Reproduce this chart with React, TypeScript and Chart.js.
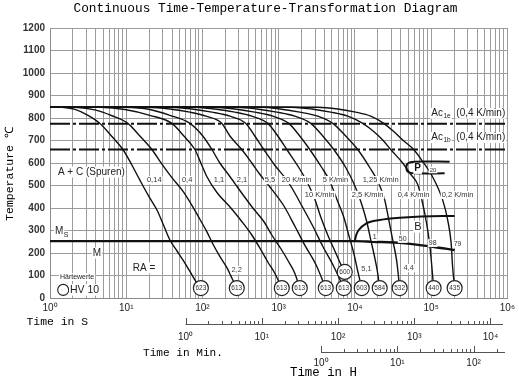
import React, { useEffect, useRef } from "react";
import { Chart, registerables } from "chart.js";

Chart.register(...registerables);

const SANS = '"Liberation Sans", Arial, Helvetica, sans-serif';
const MONO = '"Liberation Mono", "DejaVu Sans Mono", monospace';

// ---------------- data (time in s, temperature in °C) ----------------
const curveNames = ["0,14", "0,4", "1,1", "2,1", "5,5", "20 K/min", "10 K/min", "5 K/min", "2,5 K/min", "1,25 K/min", "0,4 K/min", "0,2 K/min"];

const c1Time = [1, 1.44, 2.13, 3.15, 4.52, 6.49, 9.05, 11.9, 15.1, 19.3, 25.3, 31.2, 37.4, 46.2, 55.4, 68.4, 84.5, 95.3];
const c1Temp = [850, 848, 838, 812, 776, 718, 660, 590, 524, 458, 391, 320, 258, 210, 169, 118, 67, 44];

const c2Time = [1, 2.13, 3.89, 6.49, 10.5, 15.1, 21.7, 29.4, 39.7, 55.4, 74.8, 92.5, 114, 137, 169, 209, 250, 282];
const c2Temp = [850, 848, 836, 810, 776, 720, 660, 595, 535, 475, 405, 350, 295, 240, 185, 135, 80, 44];

const c3Time = [1, 4.52, 9.62, 20.4, 39.7, 57.0, 79.5, 95.3, 114, 154, 236, 328, 444, 582, 720, 889, 1098];
const c3Temp = [850, 848, 838, 812, 776, 720, 660, 600, 540, 470, 400, 340, 280, 215, 160, 110, 44];

const c4Time = [1, 9.62, 20.4, 37.4, 68.4, 101, 133, 169, 229, 338, 458, 638, 812, 1065, 1357, 1626, 1890];
const c4Temp = [850, 848, 838, 812, 776, 720, 660, 600, 540, 460, 400, 340, 280, 220, 160, 110, 44];

const c5Time = [1, 19.3, 37.4, 68.4, 111, 180, 229, 328, 444, 565, 742, 1166, 1626, 2198, 3063, 4144];
const c5Temp = [850, 848, 840, 826, 808, 776, 720, 660, 600, 550, 500, 410, 320, 235, 150, 44];

const c6Time = [1, 39.7, 72.6, 133, 229, 371, 486, 638, 889, 1239, 1485, 2009, 2799, 3784, 5275, 7133];
const c6Temp = [850, 848, 840, 826, 808, 776, 720, 660, 590, 530, 490, 410, 320, 230, 140, 44];

const c7Time = [1, 79.5, 145, 266, 444, 720, 973, 1277, 1834, 2406, 2972, 3563, 4401, 5603, 6515, 7350];
const c7Temp = [850, 848, 840, 826, 808, 776, 720, 660, 580, 510, 440, 360, 280, 200, 150, 116];

const c8Time = [1, 145, 266, 486, 837, 1357, 1890, 2556, 3672, 4674, 5775, 7133, 8293, 9645, 10880, 12280];
const c8Temp = [850, 848, 840, 826, 808, 776, 720, 660, 580, 520, 440, 360, 280, 200, 120, 44];

const c9Time = [1, 291, 516, 944, 1626, 2635, 3784, 5275, 7575, 9645, 11910, 14280, 16110, 18180, 19900, 21140];
const c9Temp = [850, 848, 840, 826, 808, 776, 720, 660, 580, 510, 430, 340, 260, 180, 110, 44];

const c10Time = [1, 600, 1034, 1890, 3253, 5117, 7575, 10880, 15630, 20510, 24580, 27730, 31290, 35310, 38650];
const c10Temp = [850, 848, 840, 826, 808, 776, 720, 660, 580, 510, 436, 350, 258, 165, 44];

const c11Time = [1, 1485, 2716, 4817, 8046, 12650, 17640, 23140, 29460, 42320, 53860, 66550, 77390, 87300, 95570, 101500, 107800];
const c11Temp = [850, 848, 840, 826, 808, 776, 740, 702, 660, 600, 550, 505, 420, 330, 240, 150, 44];

const c12Time = [1, 3253, 5952, 10245, 16110, 23850, 32250, 42320, 58980, 75090, 104600, 141500, 164600, 182900, 191300, 203200];
const c12Temp = [850, 848, 840, 826, 808, 776, 740, 702, 660, 613, 538, 436, 347, 244, 138, 44];

const curveTimes = [c1Time, c2Time, c3Time, c4Time, c5Time, c6Time, c7Time, c8Time, c9Time, c10Time, c11Time, c12Time];
const curveTemps = [c1Temp, c2Temp, c3Temp, c4Temp, c5Temp, c6Temp, c7Temp, c8Temp, c9Temp, c10Temp, c11Temp, c12Temp];

// hardness circles (HV 10)
const hvTime = [95.3, 282, 1098, 1890, 4144, 7133, 7350, 12280, 21140, 38650, 107800, 203200];
const hvTemp = [44, 44, 44, 44, 44, 44, 116, 44, 44, 44, 44, 44];
const hvValue = ["623", "613", "613", "613", "613", "613", "600", "603", "584", "532", "440", "435"];

// Ms / bainite finish line
const msTime = [1, 9940, 17120, 42320, 104600, 203200];
const msTemp = [253, 253, 250, 244, 228, 213];

// bainite start
const bsTime = [9940, 10400, 11220, 14150, 21140, 38650, 141500, 203200];
const bsTemp = [253, 280, 302, 332, 347, 357, 364, 364];

// pearlite nose
const pTime = [174800, 60790, 52270, 48460, 47310, 48460, 52270, 60790, 150300];
const pTemp = [606, 606, 603, 595, 580, 565, 557, 554, 554];

// Ac lines
const acTime = [1, 1e6];
const ac1eTemp = 775;
const ac1bTemp = 660;

// annotation anchors (time, temp)
const rateLabelTime = [18.7, 53.7, 141, 282, 658, 1098, 2198, 3784, 9080, 12650, 36390, 137300];
const rateLabelTemp = [524, 524, 524, 524, 524, 524, 458, 524, 458, 524, 458, 458];

const raText = ["2,2", "5,1", "4,4"];
const raTime = [282, 14150, 50700];
const raTemp = [124, 129, 133];

const bainiteText = ["1", "50", "98", "79"];
const bainiteTime = [18180, 42320, 104600, 222300];
const bainiteTemp = [271, 262, 244, 240];

const SUP = ["⁰", "¹", "²", "³", "⁴", "⁵", "⁶"];

const gridTickValues: number[] = [];
for (let e = 0; e < 6; e++) for (let m = 1; m < 10; m++) gridTickValues.push(m * Math.pow(10, e));
gridTickValues.push(1e6);

function label(ctx: CanvasRenderingContext2D, s: string, x: number, y: number, size: number, align: CanvasTextAlign = "left", bg = true, color = "#222", weight = "normal") {
  ctx.font = `${weight} ${size}px ${SANS}`;
  ctx.textAlign = align;
  ctx.textBaseline = "middle";
  if (bg) {
    const w = ctx.measureText(s).width;
    const lx = align === "left" ? x : align === "center" ? x - w / 2 : x - w;
    ctx.fillStyle = "#fff";
    ctx.fillRect(lx - 1, y - size * 0.55, w + 2, size * 1.1);
  }
  ctx.fillStyle = color;
  ctx.fillText(s, x, y);
  return ctx.measureText(s).width;
}

const annotPlugin = {
  id: "annot",
  afterDatasetsDraw(chart: any) {
    const ctx: CanvasRenderingContext2D = chart.ctx;
    const xs = chart.scales.x;
    const ys = chart.scales.y;
    const X = (t: number) => xs.getPixelForValue(t);
    const Y = (T: number) => ys.getPixelForValue(T);
    ctx.save();
    hvValue.forEach((v, i) => {
      label(ctx, v, X(hvTime[i]), Y(hvTemp[i]) + 0.5, 6.5, "center", false, "#333");
    });
    curveNames.forEach((n, i) => {
      label(ctx, n, X(rateLabelTime[i]), Y(rateLabelTemp[i]), 7.5, "left", true, "#333");
    });
    raText.forEach((s, i) => label(ctx, s, X(raTime[i]), Y(raTemp[i]), 7.5, "center", true, "#444"));
    bainiteText.forEach((s, i) => label(ctx, s, X(bainiteTime[i]), Y(bainiteTemp[i]), 7, "center", true, "#333"));

    const acLabel = (T: number, sub: string) => {
      const x0 = X(100500);
      const y0 = Y(T);
      const w = label(ctx, "Ac", x0, y0, 10, "left", true, "#222");
      label(ctx, sub, x0 + w + 0.5, y0 + 3, 6.5, "left", true, "#222");
      label(ctx, "(0,4 K/min)", x0 + 25, y0, 10, "left", true, "#222");
    };
    acLabel(821, "1e");
    acLabel(713, "1b");

    label(ctx, "A + C (Spuren)", X(1.27), Y(560), 10, "left", true, "#222");
    const mw = label(ctx, "M", X(1.16), Y(295), 10, "left", true, "#222");
    label(ctx, "S", X(1.16) + mw + 0.5, Y(295) + 3, 7, "left", true, "#222");
    label(ctx, "M", X(3.63), Y(200), 10, "left", true, "#222");
    label(ctx, "RA =", X(12.2), Y(133), 10, "left", true, "#222");
    label(ctx, "Härtewerte", X(1.35), Y(93), 7, "left", true, "#222");
    ctx.beginPath();
    ctx.arc(X(1.49), Y(36), 5.5, 0, Math.PI * 2);
    ctx.fillStyle = "#fff";
    ctx.fill();
    ctx.strokeStyle = "#222";
    ctx.lineWidth = 1.1;
    ctx.stroke();
    label(ctx, "HV 10", X(1.83), Y(36), 10.5, "left", true, "#222");

    label(ctx, "B", X(67100), Y(317), 11, "center", true, "#222");
    label(ctx, "P", X(66550), Y(576), 10, "center", true, "#111", "bold");
    label(ctx, "20", X(95570), Y(569), 6, "left", true, "#333");
    ctx.restore();
  },
  afterDraw(chart: any) {
    const ctx: CanvasRenderingContext2D = chart.ctx;
    const xs = chart.scales.x;
    ctx.save();
    ctx.fillStyle = "#000";
    ctx.textBaseline = "middle";
    ctx.textAlign = "center";
    ctx.font = `12.8px ${MONO}`;
    ctx.fillText("Continuous Time-Temperature-Transformation Diagram", 265.5, 8.5);
    ctx.save();
    ctx.translate(10, 174);
    ctx.rotate(-Math.PI / 2);
    ctx.font = `11.5px ${MONO}`;
    ctx.fillText("Temperature ℃", 0, 0);
    ctx.restore();
    ctx.textAlign = "left";
    ctx.font = `11.4px ${MONO}`;
    ctx.fillText("Time in S", 26.5, 322);
    ctx.font = `11.1px ${MONO}`;
    ctx.fillText("Time in Min.", 143, 353.5);
    ctx.font = `12.4px ${MONO}`;
    ctx.fillText("Time in H", 290, 373);

    const subAxis = (factor: number, baseY: number, labelY: number, right: number, maxExp: number) => {
      const x0 = xs.getPixelForValue(factor);
      ctx.strokeStyle = "#555";
      ctx.lineWidth = 1;
      ctx.beginPath();
      ctx.moveTo(x0, baseY + 0.5);
      ctx.lineTo(right, baseY + 0.5);
      ctx.stroke();
      for (let e = 0; e <= maxExp + 1; e++) {
        for (let m = 1; m < 10; m++) {
          const px = xs.getPixelForValue(m * Math.pow(10, e) * factor);
          if (px > right + 0.5) continue;
          const h = m === 1 ? 6 : 3;
          const xx = Math.round(px) + 0.5;
          ctx.beginPath();
          ctx.moveTo(xx, baseY);
          ctx.lineTo(xx, baseY - h);
          ctx.stroke();
          if (m === 1 && e <= maxExp) {
            ctx.font = `10px ${SANS}`;
            ctx.textAlign = "center";
            ctx.fillStyle = "#222";
            ctx.fillText("10" + SUP[e], px, labelY);
          }
        }
      }
    };
    subAxis(60, 324, 337, 503, 4);
    subAxis(3600, 352, 363.5, 505, 2);
    ctx.restore();
  },
};

export default function App() {
  const ref = useRef<HTMLCanvasElement | null>(null);
  useEffect(() => {
    if (!ref.current) return;
    const pts = (ts: number[], Ts: number[]) => ts.map((t, i) => ({ x: t, y: Ts[i] }));
    const datasets: any[] = [];
    datasets.push({
      data: pts(hvTime, hvTemp),
      showLine: false,
      pointRadius: 7.5,
      pointStyle: "circle",
      pointBackgroundColor: "#fff",
      pointBorderColor: "#222",
      pointBorderWidth: 1.2,
      order: 0,
    });
    curveTimes.forEach((ts, i) => {
      datasets.push({
        data: pts(ts, curveTemps[i]),
        borderColor: "#111",
        borderWidth: 1.4,
        pointRadius: 0,
        cubicInterpolationMode: "monotone",
        fill: false,
        order: 1,
      });
    });
    [ac1eTemp, ac1bTemp].forEach((T) => {
      datasets.push({
        data: pts(acTime, [T, T]),
        borderColor: "#111",
        borderWidth: 2,
        borderDash: [20, 3, 3, 3],
        pointRadius: 0,
        order: 2,
      });
    });
    datasets.push({
      data: pts(msTime, msTemp),
      borderColor: "#111",
      borderWidth: 2.4,
      pointRadius: 0,
      cubicInterpolationMode: "monotone",
      order: 1,
    });
    datasets.push({
      data: pts(bsTime, bsTemp),
      borderColor: "#111",
      borderWidth: 2,
      pointRadius: 0,
      cubicInterpolationMode: "monotone",
      order: 1,
    });
    datasets.push({
      data: pts(pTime, pTemp),
      borderColor: "#111",
      borderWidth: 2,
      pointRadius: 0,
      tension: 0.35,
      order: 1,
    });

    const chart = new Chart(ref.current, {
      type: "line",
      data: { datasets },
      plugins: [annotPlugin as any],
      options: {
        responsive: false,
        maintainAspectRatio: false,
        animation: false,
        devicePixelRatio: 1,
        layout: { padding: { left: 0, right: 11, top: 28, bottom: 0 } },
        plugins: { legend: { display: false }, tooltip: { enabled: false }, title: { display: false } },
        scales: {
          x: {
            type: "logarithmic",
            min: 1,
            max: 1e6,
            position: "bottom",
            afterBuildTicks: (s: any) => {
              s.ticks = gridTickValues.map((v) => ({ value: v }));
            },
            afterFit: (s: any) => {
              s.height = 82;
            },
            grid: { color: "#9c9c9c", lineWidth: 1, drawTicks: false },
            border: { display: true, color: "#8a8a8a" },
            ticks: {
              autoSkip: false,
              maxRotation: 0,
              minRotation: 0,
              padding: 4,
              color: "#222",
              font: { family: SANS, size: 10 },
              callback: (v: any) => {
                const e = Math.log10(Number(v));
                return Math.abs(e - Math.round(e)) < 1e-9 ? "10" + SUP[Math.round(e)] : "";
              },
            },
          },
          y: {
            type: "linear",
            min: 0,
            max: 1200,
            afterFit: (s: any) => {
              s.width = 50;
            },
            grid: { color: "#9c9c9c", lineWidth: 1, drawTicks: false },
            border: { display: true, color: "#8a8a8a" },
            ticks: {
              stepSize: 100,
              padding: 5,
              color: "#333",
              font: { family: SANS, size: 10, weight: "bold" },
              callback: (v: any) => String(v),
            },
          },
        },
      } as any,
    });
    return () => chart.destroy();
  }, []);
  return (
    <canvas
      ref={ref}
      width={519}
      height={380}
      style={{ position: "absolute", left: 0, top: 0, width: 519, height: 380 }}
    />
  );
}
